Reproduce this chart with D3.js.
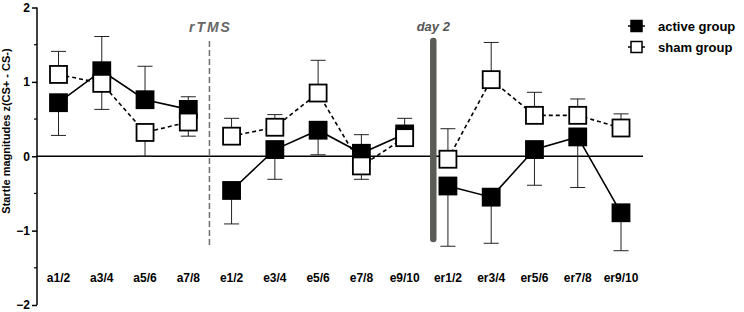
<!DOCTYPE html>
<html>
<head>
<meta charset="utf-8">
<script src="https://cdn.jsdelivr.net/npm/d3@7"></script>
<style>
  body { margin: 0; background: #fff; }
  svg { display: block; font-family: "Liberation Sans", Arial, sans-serif; }
</style>
</head>
<body>
<svg id="chart" width="744" height="312"></svg>
<script>
var categories = ['a1/2','a3/4','a5/6','a7/8','e1/2','e3/4','e5/6','e7/8','e9/10',
    'er1/2','er3/4','er5/6','er7/8','er9/10'];

// mean values
var activeMean = [0.72,1.15,0.76,0.63,-0.46,0.09,0.35,0.04,0.30,-0.40,-0.55,0.09,0.26,-0.76];
var shamMean   = [1.10,0.98,0.32,0.46,0.27,0.39,0.85,-0.13,0.25,-0.04,1.03,0.55,0.55,0.38];
// whisker end values (one-sided error bars)
var activeErr  = [0.28,1.61,1.21,0.80,-0.91,-0.31,0.02,0.29,0.14,-1.21,-1.17,-0.39,-0.42,-1.27];
var shamErr    = [1.41,0.63,0.00,0.27,0.51,0.56,1.29,-0.31,0.51,0.37,1.53,0.86,0.77,0.57];

// phases that are joined by lines
var phases = [[0,3],[4,8],[9,13]];
var yTicks = [-2,-1,0,1,2];
var yMinorTicks = [-1.5,-0.5,0.5,1.5];

var svg = d3.select('#chart');

var xScale = d3.scalePoint()
    .domain(categories)
    .range([58.5, 621]);

var yScale = d3.scaleLinear()
    .domain([-2, 2])
    .range([305, 7.5]);

var axisX = 37;

// zero line
svg.append('line')
    .attr('x1', axisX).attr('x2', 643)
    .attr('y1', yScale(0)).attr('y2', yScale(0))
    .attr('stroke', '#000').attr('stroke-width', 1.5);

// rTMS marker
var rtmsX = (xScale('a7/8') + xScale('e1/2')) / 2 - 0.5;
svg.append('line')
    .attr('x1', rtmsX).attr('x2', rtmsX)
    .attr('y1', 41).attr('y2', 247)
    .attr('stroke', '#6e6e6e').attr('stroke-width', 1.5)
    .attr('stroke-dasharray', '6,3');
svg.append('text')
    .attr('x', rtmsX + 1).attr('y', 32)
    .attr('text-anchor', 'middle')
    .attr('font-size', 14).attr('font-weight', 'bold').attr('font-style', 'italic')
    .attr('letter-spacing', 2)
    .attr('fill', '#666')
    .text('rTMS');

// day 2 marker
var dayX = (xScale('e9/10') + xScale('er1/2')) / 2 + 7;
svg.append('line')
    .attr('x1', dayX).attr('x2', dayX)
    .attr('y1', 41).attr('y2', 239)
    .attr('stroke', '#5c5c57').attr('stroke-width', 6.5)
    .attr('stroke-linecap', 'round');
svg.append('text')
    .attr('x', dayX).attr('y', 31)
    .attr('text-anchor', 'middle')
    .attr('font-size', 13).attr('font-weight', 'bold').attr('font-style', 'italic')
    .attr('fill', '#555')
    .text('day 2');

// y axis
var yAxis = svg.append('g')
    .attr('transform', 'translate(' + axisX + ',0)')
    .call(d3.axisLeft(yScale).tickValues(yTicks).tickSize(5).tickPadding(2)
        .tickFormat(d3.format('d')));
yAxis.select('.domain').attr('stroke-width', 1.5).attr('d', 'M0,' + yScale(2) + 'V' + yScale(-2));
yAxis.selectAll('.tick line').attr('stroke-width', 1.5);
yAxis.selectAll('text')
    .attr('font-size', 12).attr('font-weight', 'bold')
    .attr('font-family', '"Liberation Sans", Arial, sans-serif');
svg.append('g')
    .attr('transform', 'translate(' + axisX + ',0)')
    .selectAll('line')
    .data(yMinorTicks)
    .enter()
    .append('line')
    .attr('x1', -3).attr('x2', 0)
    .attr('y1', function(d){ return yScale(d); })
    .attr('y2', function(d){ return yScale(d); })
    .attr('stroke', '#000').attr('stroke-width', 1.2);

// y axis title
svg.append('text')
    .attr('transform', 'translate(10,' + 131 + ') rotate(-90)')
    .attr('text-anchor', 'middle')
    .attr('font-size', 11).attr('font-weight', 'bold')
    .text('Startle magnitudes z(CS+ - CS-)');

// x category labels
svg.append('g')
    .selectAll('text')
    .data(categories)
    .enter()
    .append('text')
    .attr('x', function(d){ return xScale(d); })
    .attr('y', 282)
    .attr('text-anchor', 'middle')
    .attr('font-size', 12).attr('font-weight', 'bold')
    .text(function(d){ return d; });

function drawErr(mean, err) {
    var g = svg.append('g').attr('stroke', '#222').attr('stroke-width', 1);
    categories.forEach(function(c, i) {
        var x = xScale(c);
        g.append('line')
            .attr('x1', x).attr('x2', x)
            .attr('y1', yScale(mean[i])).attr('y2', yScale(err[i]));
        g.append('line')
            .attr('x1', x - 7.5).attr('x2', x + 7.5)
            .attr('y1', yScale(err[i])).attr('y2', yScale(err[i]));
    });
}

function drawLines(mean, dash) {
    var line = d3.line()
        .x(function(i){ return xScale(categories[i]); })
        .y(function(i){ return yScale(mean[i]); });
    phases.forEach(function(p) {
        svg.append('path')
            .datum(d3.range(p[0], p[1] + 1))
            .attr('d', line)
            .attr('fill', 'none')
            .attr('stroke', '#000')
            .attr('stroke-width', 1.6)
            .attr('stroke-dasharray', dash);
    });
}

function drawSquares(mean, fill) {
    var s = 17;
    svg.append('g')
        .selectAll('rect')
        .data(mean)
        .enter()
        .append('rect')
        .attr('x', function(d, i){ return xScale(categories[i]) - s / 2; })
        .attr('y', function(d){ return yScale(d) - s / 2; })
        .attr('width', s).attr('height', s)
        .attr('fill', fill)
        .attr('stroke', '#000').attr('stroke-width', 1.8);
}

drawErr(activeMean, activeErr);
drawErr(shamMean, shamErr);
drawLines(activeMean, null);
drawLines(shamMean, '4,3');
drawSquares(activeMean, '#000');
drawSquares(shamMean, '#fff');

// legend
var legend = [{label: 'active group', fill: '#000', y: 26},
    {label: 'sham group', fill: '#fff', y: 47}];
var lg = svg.append('g').selectAll('g').data(legend).enter().append('g');
lg.append('line')
    .attr('x1', 628).attr('x2', 645)
    .attr('y1', function(d){ return d.y; }).attr('y2', function(d){ return d.y; })
    .attr('stroke', '#000').attr('stroke-width', 1.5);
lg.append('rect')
    .attr('x', 631).attr('y', function(d){ return d.y - 5.5; })
    .attr('width', 11).attr('height', 11)
    .attr('fill', function(d){ return d.fill; })
    .attr('stroke', '#000').attr('stroke-width', 1.5);
lg.append('text')
    .attr('x', 658).attr('y', function(d){ return d.y + 4.5; })
    .attr('font-size', 13).attr('font-weight', 'bold')
    .text(function(d){ return d.label; });
</script>
</body>
</html>
